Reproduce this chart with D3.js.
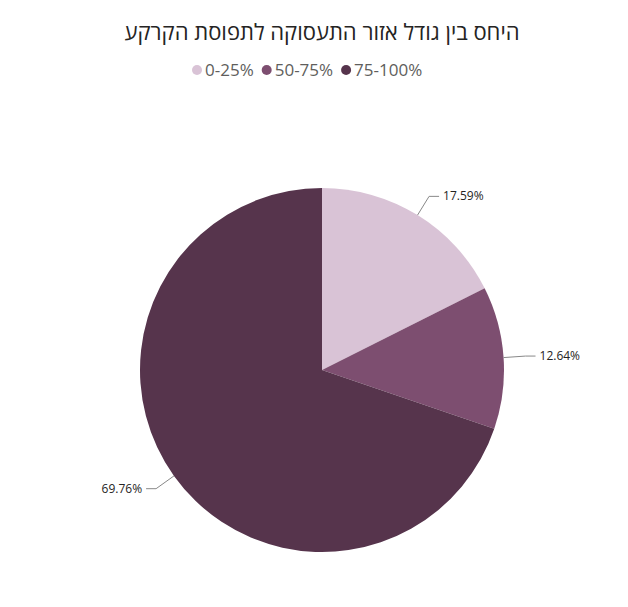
<!DOCTYPE html>
<html><head><meta charset="utf-8">
<script src="https://cdn.jsdelivr.net/npm/d3@7"></script>
<style>body{margin:0;background:#fff;font-family:"Open Sans","Noto Sans",sans-serif;}</style>
</head><body>
<script>
const categories = ['0-25%', '50-75%', '75-100%'];
const values = [17.59, 12.64, 69.76];
const colors = ['#D9C3D6', '#7D4E70', '#56344C'];

const svg = d3.select('body').append('svg').attr('width', 628).attr('height', 607);

svg.append('text').attr('x', 322).attr('y', 40).attr('text-anchor', 'middle')
  .attr('font-size', 22).attr('fill', '#252423').attr('direction', 'rtl')
  .text('היחס בין גודל אזור התעסוקה לתפוסת הקרקע');

// legend
const legend = svg.append('g').attr('font-size', 17).attr('fill', '#605E5C');
let lx = 192;
categories.forEach((c, i) => {
  legend.append('circle').attr('cx', lx + 5).attr('cy', 70).attr('r', 5).attr('fill', colors[i]);
  const t = legend.append('text').attr('x', lx + 13).attr('y', 76).text(c);
  lx += 13 + t.node().getComputedTextLength() + 8;
});

const cx = 322, cy = 370, r = 182;
const pie = d3.pie().sort(null).value(d => d);
const arcs = pie(values);
const arc = d3.arc().innerRadius(0).outerRadius(r);
const g = svg.append('g').attr('transform', `translate(${cx},${cy})`);

g.selectAll('path').data(arcs).enter().append('path')
  .attr('d', arc).attr('fill', (d, i) => colors[i]);

const pt = (a, rr) => [rr * Math.sin(a), -rr * Math.cos(a)];
arcs.forEach(d => {
  const a = (d.startAngle + d.endAngle) / 2;
  const p0 = pt(a, r), p1 = pt(a, 204);
  const right = Math.sin(a) > 0;
  const p2 = [p1[0] + (right ? 10 : -10), p1[1]];
  g.append('polyline').attr('points', [p0, p1, p2].map(p => p.join(',')).join(' '))
    .attr('fill', 'none').attr('stroke', '#888').attr('stroke-width', 1);
  g.append('text').attr('x', p2[0] + (right ? 4 : -4)).attr('y', p2[1] + 4)
    .attr('text-anchor', right ? 'start' : 'end').attr('font-size', 12).attr('fill', '#252423')
    .text(d.data.toFixed(2) + '%');
});
</script>
</body></html>
